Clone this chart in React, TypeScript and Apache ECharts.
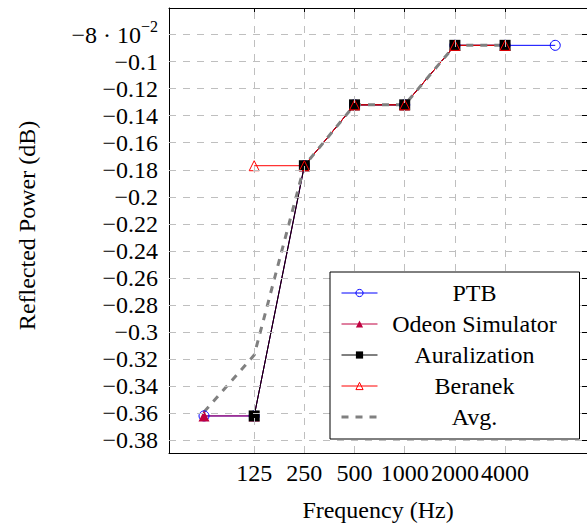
import React, { useEffect, useRef } from "react";
import * as echarts from "echarts";

// ---- data ----
const freqs = ["63", "125", "250", "500", "1000", "2000", "4000", "8000"];
const xTickLabels = ["125", "250", "500", "1000", "2000", "4000"];
const yTicks = [-0.38, -0.36, -0.34, -0.32, -0.3, -0.28, -0.26, -0.24, -0.22, -0.2, -0.18, -0.16, -0.14, -0.12, -0.1, -0.08];

const ptb = [-0.362, -0.362, -0.177, -0.132, -0.132, -0.088, -0.088, -0.088];
const odeon = [-0.362, -0.362, -0.177, -0.132, -0.132, -0.088, -0.088, null];
const auralization = [null, -0.362, -0.177, -0.132, -0.132, -0.088, -0.088, null];
const beranek = [null, -0.177, -0.177, -0.132, -0.132, -0.088, -0.088, null];
const avg = [-0.359, -0.317, -0.177, -0.132, -0.132, -0.088, -0.088, null];

const seriesNames = ["PTB", "Odeon Simulator", "Auralization", "Beranek", "Avg."];

const FONT = "'Liberation Serif', 'Times New Roman', serif";
const X_MIN = -0.698;
const X_MAX = 7.633;
const Y_MIN = -0.3894;
const Y_MAX = -0.0604;

function toPairs(arr: (number | null)[]) {
  return arr.map((v, i) => [i, v]).filter((d) => d[1] != null);
}

const xTickIdx = xTickLabels.map((l) => freqs.indexOf(l));

export default function App() {
  const ref = useRef<HTMLDivElement>(null);
  useEffect(() => {
    if (!ref.current) return;
    const chart = echarts.init(ref.current, undefined, { renderer: "svg" });
    const axisLine = { show: true, onZero: false, lineStyle: { color: "#000", width: 1 } };
    const tickStyle = { color: "#000", width: 1 };
    const yFmt = (v: number) =>
      Math.abs(v + 0.08) < 1e-9 ? "{m|−8 · 10}{s|−2}" : "−" + String(+Math.abs(v).toFixed(2));
    const option: any = {
      animation: false,
      textStyle: { fontFamily: FONT },
      grid: { left: 169, right: 0, top: 8, bottom: 76 },
      xAxis: [
        {
          type: "value",
          position: "bottom",
          min: X_MIN,
          max: X_MAX,
          splitLine: { show: false },
          axisLine,
          axisTick: { show: true, inside: true, length: 6, customValues: xTickIdx, lineStyle: tickStyle },
          axisLabel: {
            customValues: xTickIdx,
            formatter: (v: number) => freqs[Math.round(v)],
            fontSize: 24,
            color: "#000",
            margin: 8,
            fontFamily: FONT,
          },
          name: "Frequency (Hz)",
          nameLocation: "middle",
          nameGap: 45,
          nameTextStyle: { fontSize: 24, color: "#000", fontFamily: FONT },
        },
        {
          type: "value",
          position: "top",
          min: X_MIN,
          max: X_MAX,
          splitLine: { show: false },
          axisLine,
          axisTick: { show: true, inside: true, length: 6, customValues: xTickIdx, lineStyle: tickStyle },
          axisLabel: { show: false },
        },
      ],
      yAxis: [
        {
          type: "value",
          position: "left",
          min: Y_MIN,
          max: Y_MAX,
          splitLine: { show: false },
          axisLine,
          axisTick: { show: true, inside: true, length: 6, customValues: yTicks, lineStyle: tickStyle },
          axisLabel: {
            customValues: yTicks,
            formatter: yFmt,
            fontSize: 24,
            color: "#000",
            margin: 11,
            fontFamily: FONT,
            rich: {
              m: { fontSize: 24, fontFamily: FONT, color: "#000" },
              s: { fontSize: 16, fontFamily: FONT, color: "#000", padding: [0, 0, 16, 0] },
            },
          },
          name: "Reflected Power (dB)",
          nameLocation: "middle",
          nameGap: 130,
          nameTextStyle: { fontSize: 24, color: "#000", fontFamily: FONT, padding: [0, 0, 0, 10] },
        },
        {
          type: "value",
          position: "right",
          min: Y_MIN,
          max: Y_MAX,
          splitLine: { show: false },
          axisLine,
          axisTick: { show: true, inside: true, length: 6, customValues: yTicks, lineStyle: tickStyle },
          axisLabel: { show: false },
        },
      ],
      legend: {
        data: seriesNames.map((n) =>
          n === "Avg."
            ? { name: n, itemStyle: { opacity: 0, color: "rgba(0,0,0,0)", borderWidth: 0 }, lineStyle: { width: 3 } }
            : { name: n }
        ),
        orient: "vertical",
        left: 330,
        top: 272,
        backgroundColor: "#fff",
        borderColor: "#000",
        borderWidth: 1,
        borderRadius: 0,
        padding: [9, 13, 10, 10],
        itemGap: 7,
        itemWidth: 36,
        itemHeight: 9,
        selectedMode: false,
        lineStyle: { width: 1 },
        itemStyle: { borderWidth: 1 },
        formatter: (n: string) => "{c|" + n + "}",
        textStyle: {
          fontFamily: FONT,
          fontSize: 24,
          color: "#000",
          rich: { c: { width: 184, align: "center", fontSize: 24, lineHeight: 24, fontFamily: FONT, color: "#000" } },
        },
        z: 10,
      },
      series: [
        {
          name: "grid",
          type: "line",
          data: [],
          z: 1,
          silent: true,
          markLine: {
            silent: true,
            symbol: ["none", "none"],
            label: { show: false },
            lineStyle: { color: "#bfbfbf", type: [7, 7], width: 1 },
            data: [
              ...xTickIdx.map((x) => ({ xAxis: x })),
              ...yTicks.map((y) => ({ yAxis: y })),
            ],
          },
        },
        {
          name: "PTB",
          type: "line",
          z: 3,
          data: toPairs(ptb),
          symbol: "circle",
          symbolSize: 10,
          itemStyle: { color: "rgba(255,255,255,0)", borderColor: "#0000ff", borderWidth: 1 },
          lineStyle: { color: "#0000ff", width: 1 },
        },
        {
          name: "Odeon Simulator",
          type: "line",
          z: 3,
          data: toPairs(odeon),
          symbol: "triangle",
          symbolSize: 11,
          itemStyle: { color: "#bf0040" },
          lineStyle: { color: "#bf0040", width: 1 },
        },
        {
          name: "Auralization",
          type: "line",
          z: 3,
          data: toPairs(auralization),
          symbol: "rect",
          symbolSize: 11,
          itemStyle: { color: "#000" },
          lineStyle: { color: "#000", width: 1 },
        },
        {
          name: "Beranek",
          type: "line",
          z: 3,
          data: toPairs(beranek),
          symbol: "triangle",
          symbolSize: 10,
          itemStyle: { color: "rgba(255,255,255,0)", borderColor: "#ff0000", borderWidth: 1 },
          lineStyle: { color: "#ff0000", width: 1 },
        },
        {
          name: "Avg.",
          type: "line",
          z: 3,
          data: toPairs(avg),
          symbol: "none",
          itemStyle: { color: "#808080" },
          lineStyle: { color: "#808080", width: 3, type: [7, 7] },
        },
      ],
    };
    chart.setOption(option);
    return () => chart.dispose();
  }, []);
  return (
    <div
      ref={ref}
      style={{ position: "fixed", left: 0, top: 0, width: 587, height: 529, background: "#fff" }}
    />
  );
}
